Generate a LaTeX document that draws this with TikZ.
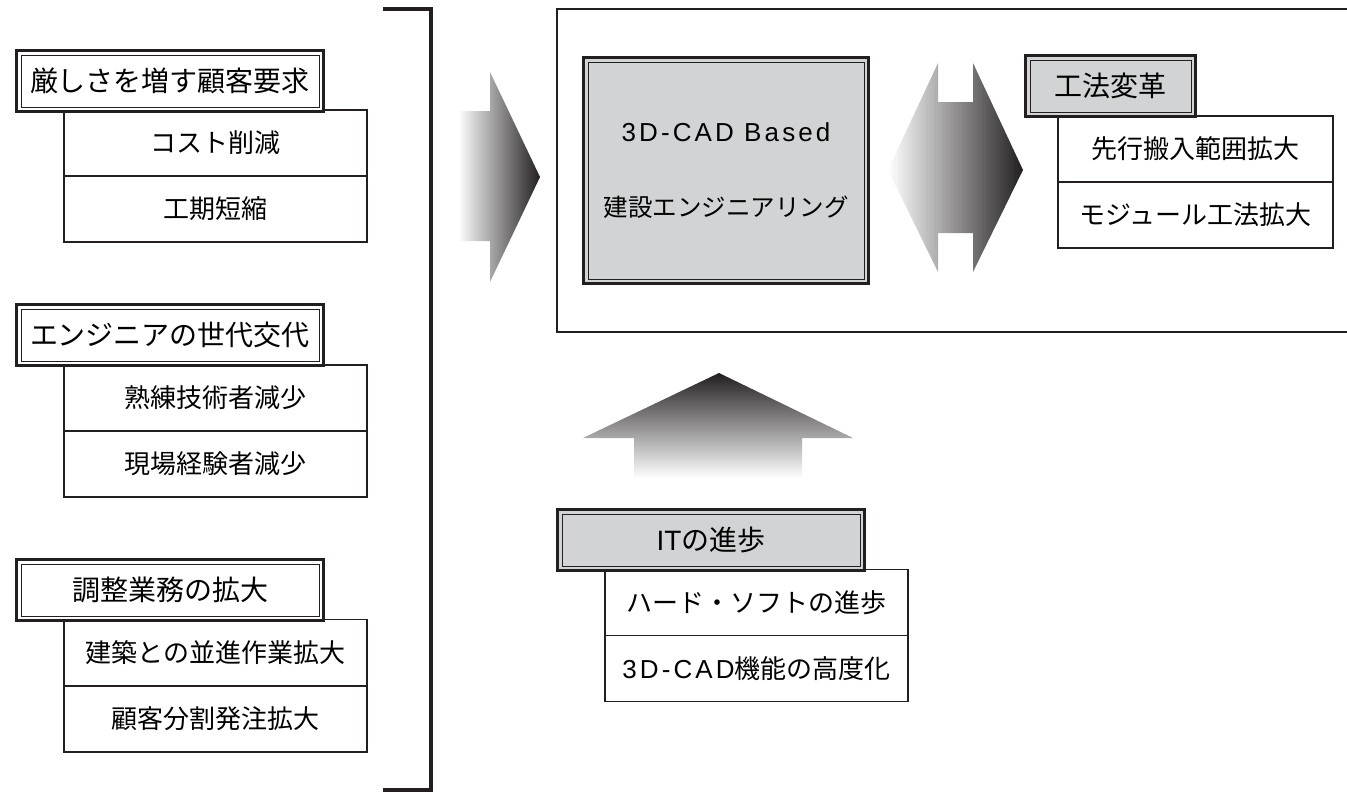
\documentclass[tikz,border=0pt]{standalone}
\usepackage{fontspec}
\setmainfont{Liberation Sans}
\newfontfamily\jp{Noto Sans CJK JP}
\newfontfamily\lat[LetterSpace=12]{Liberation Sans}
\definecolor{ink}{HTML}{231F20}
\definecolor{gfill}{HTML}{D1D3D4}
\begin{document}
\begin{tikzpicture}[x=1pt,y=-1pt,
  innerline/.style={path picture={\draw[ink, line width=0.9pt]
      ([shift={(4.5pt,-4.5pt)}]path picture bounding box.north west) rectangle
      ([shift={(-4.5pt,4.5pt)}]path picture bounding box.south east);}},
  hdr/.style={draw=ink, line width=3pt, fill=white, minimum width=307pt,
    minimum height=61pt, inner sep=0pt, font=\fontsize{28}{34}\selectfont\jp, innerline},
  ghdr/.style={hdr, fill=gfill},
  sub/.style={draw=ink, line width=1.1pt, fill=white, minimum width=303pt,
    minimum height=66pt, inner sep=0pt, font=\fontsize{26}{31}\selectfont\jp},
  bigarrow/.style={draw=none}
]
\useasboundingbox (0,0) rectangle (1347,792);
\fill[white] (0,0) rectangle (1347,792);

% bracket
\coordinate (bt) at (383,9.5);
\coordinate (bb) at (383,790);
\draw[ink, line width=4pt, line join=miter] (bt) -- (431,9.5) -- (431,790) -- (bb);

% left column
\node[sub] (s1a) at (215.5,143) {コスト削減};
\node[sub] (s1b) at (215.5,209) {工期短縮};
\node[hdr] (h1) at (170,81.3) {厳しさを増す顧客要求};

\node[sub] (s2a) at (215.5,398) {熟練技術者減少};
\node[sub] (s2b) at (215.5,464) {現場経験者減少};
\node[hdr] (h2) at (170,335.3) {エンジニアの世代交代};

\node[sub] (s3a) at (215.5,652.5) {建築との並進作業拡大};
\node[sub] (s3b) at (215.5,719) {顧客分割発注拡大};
\node[hdr] (h3) at (170,590) {調整業務の拡大};

% left arrow
\shade[bigarrow, left color=white, right color=ink]
  (458,111) -- (490,111) -- (490,72) -- (540,177) -- (490,282) -- (490,241) -- (458,241) -- cycle;

% frame
\draw[ink, line width=2pt] (557,9) rectangle (1362,332);

% core
\node[draw=ink, line width=3pt, fill=gfill, minimum width=285pt, minimum height=226pt,
  inner sep=0pt, innerline, align=center, font=\fontsize{25}{75}\selectfont] (core) at (726,170.5)
  {{\lat\fontsize{26}{75}\selectfont 3D-CAD Based}\\{\jp\fontsize{24.5}{75}\selectfont 建設エンジニアリング}};

% double arrow
\shade[bigarrow, left color=white, right color=ink]
  (888,170) -- (938,63) -- (938,102) -- (973,102) -- (973,63) -- (1023,170)
  -- (973,272) -- (973,233) -- (938,233) -- (938,272) -- cycle;

% right group
\node[sub, minimum width=275pt] (s4a) at (1195.5,149) {先行搬入範囲拡大};
\node[sub, minimum width=275pt] (s4b) at (1195.5,215) {モジュール工法拡大};
\node[ghdr, minimum width=170pt] (h4) at (1110.5,86) {工法変革};

% up arrow
\shade[bigarrow, top color=ink, bottom color=white]
  (719,373) -- (853,438) -- (802,438) -- (802,478) -- (634,478) -- (634,438) -- (583,438) -- cycle;

% IT group
\node[sub] (s5a) at (756.5,602.5) {ハード・ソフトの進歩};
\node[sub] (s5b) at (756.5,668.5) {{\lat 3D-CAD}機能の高度化};
\node[ghdr] (h5) at (711,540) {{\rmfamily IT}の進歩};
\end{tikzpicture}
\end{document}
